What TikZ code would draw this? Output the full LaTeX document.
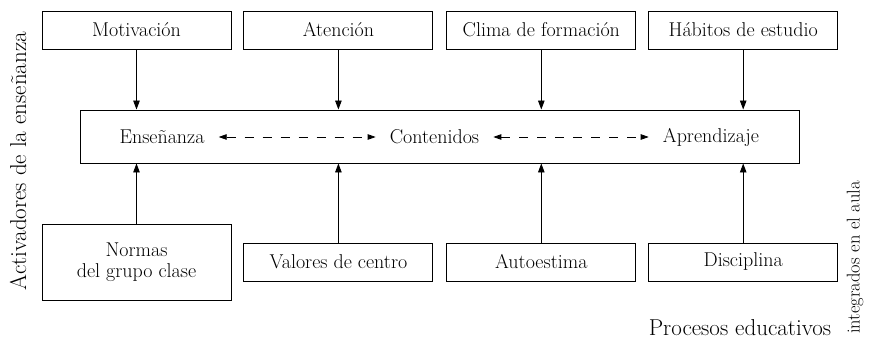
\documentclass[tikz,border=0pt]{standalone}
\usetikzlibrary{arrows.meta,positioning}

\begin{document}
\begin{tikzpicture}[x=1pt, y=-1pt,
    box/.style={rectangle, draw, line width=0.9pt, minimum width=189pt, minimum height=38pt, inner sep=0pt, font=\fontsize{20}{21}\selectfont},
    txt/.style={inner sep=0pt, font=\fontsize{20}{21}\selectfont},
    side/.style={inner sep=0pt, font=\fontsize{23}{26}\selectfont},
    arrow/.style={-{Triangle[length=9pt,width=6.5pt]}, line width=0.9pt},
    dasharrow/.style={{Triangle[length=8pt,width=5.5pt]}-{Triangle[length=8pt,width=5.5pt]}, dash pattern=on 9pt off 9pt, line width=0.8pt, shorten <=14pt, shorten >=14pt}]
    \useasboundingbox (0,0) rectangle (870,342);

    % activadores (arriba)
    \node[box] (motiv) at (136.5,30) {Motivación};
    \node[box, right=12pt of motiv] (atenc) {Atención};
    \node[box, right=13pt of atenc] (clima) {Clima de formación};
    \node[box, right=12pt of clima] (habit) {Hábitos de estudio};

    % caja central
    \node[rectangle, draw, line width=0.9pt, minimum width=719pt, minimum height=53pt] (mid) at (439.5,136.5) {};
    \node[txt] (ense) at (162,137) {Enseñanza};
    \node[txt] (conte) at (434.5,137) {Contenidos};
    \node[txt] (apren) at (711,137) {Aprendizaje};

    % procesos (abajo)
    \node[box, minimum height=76pt, align=center] (normas) at (136.5,262) {Normas\\del grupo clase};
    \node[box, right=12pt of normas] (valor) {Valores de centro};
    \node[box, right=13pt of valor] (autoe) {Autoestima};
    \node[box, right=12pt of autoe] (disci) {Disciplina};

    % rotulos
    \node[side, rotate=90] (activ) at (18,161) {Activadores de la enseñanza};
    \node[side, rotate=90, font=\fontsize{18.5}{21}\selectfont] (integ) at (855,257.5) {integrados en el aula};
    \node[side] (proce) at (740,328) {Procesos educativos};

    \draw[arrow] (motiv) -- (motiv |- mid.north);
    \draw[arrow] (atenc) -- (atenc |- mid.north);
    \draw[arrow] (clima) -- (clima |- mid.north);
    \draw[arrow] (habit) -- (habit |- mid.north);

    \draw[arrow] (normas) -- (normas |- mid.south);
    \draw[arrow] (valor) -- (valor |- mid.south);
    \draw[arrow] (autoe) -- (autoe |- mid.south);
    \draw[arrow] (disci) -- (disci |- mid.south);

    \draw[dasharrow] (ense) -- (conte);
    \draw[dasharrow] (conte) -- (apren);

\end{tikzpicture}
\end{document}
